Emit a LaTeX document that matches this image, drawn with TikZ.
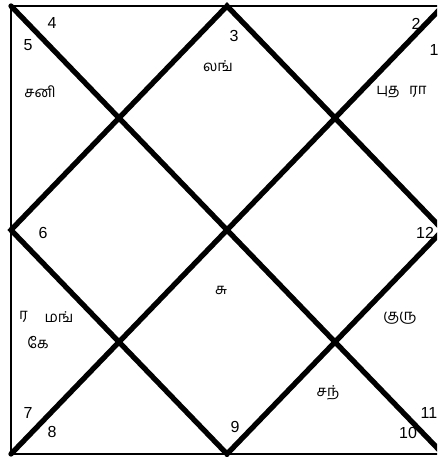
\documentclass[tikz,border=0pt]{standalone}
\usepackage{fontspec}
\setmainfont{Liberation Sans}
\newfontfamily\tamil[Script=Tamil]{Hind Madurai}
\begin{document}
\begin{tikzpicture}[x=1pt,y=-1pt,
  frame/.style={line width=2pt},
  diag/.style={line width=5.3pt,line cap=round,line join=miter},
  num/.style={inner sep=0pt,font=\fontsize{16}{16}\selectfont},
  planet/.style={inner sep=0pt,font=\tamil\fontsize{15}{15}\selectfont}]
\useasboundingbox (0,0) rectangle (437,457);
\clip (0,0) rectangle (437,457);
\coordinate (TL) at (11,6);
\coordinate (TR) at (443,6);
\coordinate (BL) at (11,454);
\coordinate (BR) at (443,454);
\coordinate (T) at (227,6);
\coordinate (L) at (11,230);
\coordinate (B) at (227,454);
\coordinate (R) at (443,230);
\draw[frame] (TL) -- (TR) -- (BR) -- (BL) -- cycle;
\draw[diag] (TL) -- (BR);
\draw[diag] (BL) -- (TR);
\draw[diag] (T) -- (R) -- (B) -- (L) -- cycle;
% house numbers
\node[num] (n1) at (434,50) {1};
\node[num] (n2) at (416,24) {2};
\node[num] (n3) at (234,36) {3};
\node[num] (n4) at (52,23) {4};
\node[num] (n5) at (28,45) {5};
\node[num] (n6) at (43,233) {6};
\node[num] (n7) at (28,413) {7};
\node[num] (n8) at (52,432) {8};
\node[num] (n9) at (235,427) {9};
\node[num] (n10) at (408,433) {10};
\node[num] (n11) at (429,413) {11};
\node[num] (n12) at (425,233) {12};
% planets
\node[planet] (p3) at (218,66) {லங்};
\node[planet] (p5) at (40,92) {சனி};
\node[planet] (p1a) at (388,92) {புத};
\node[planet,anchor=west] (p1b) at (409,92) {ரா};
\node[planet] (p6a) at (23.5,317) {ர};
\node[planet] (p6b) at (59,317) {மங்};
\node[planet] (p6c) at (38,343) {கே};
\node[planet] (p9) at (221,290) {சு};
\node[planet] (p11) at (400,318) {குரு};
\node[planet] (p10) at (328,393) {சந்};
\end{tikzpicture}
\end{document}
